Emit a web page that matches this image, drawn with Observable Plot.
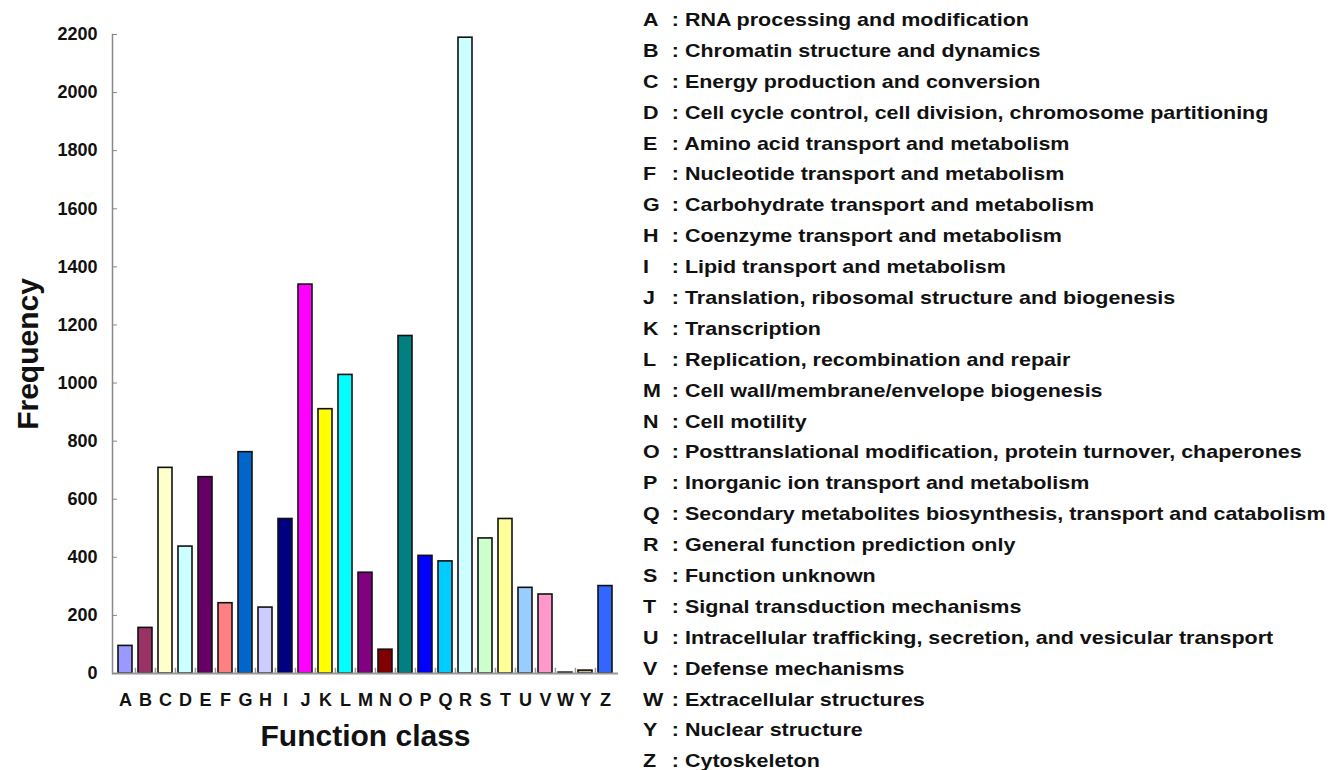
<!DOCTYPE html>
<html>
<head>
<meta charset="utf-8">
<script src="https://cdn.jsdelivr.net/npm/d3@7"></script>
<script src="https://cdn.jsdelivr.net/npm/@observablehq/plot@0.6"></script>
<style>
  html, body { margin: 0; padding: 0; background: #fff; }
  body { width: 1339px; height: 770px; position: relative; overflow: hidden;
         font-family: "Liberation Sans", Arial, sans-serif; }
  #chart { position: absolute; left: 0; top: 0; }
  #legend { position: absolute; left: 643px; top: 5px; font-weight: bold; font-size: 19px; color: #111;
            transform: scaleX(1.13); transform-origin: 0 0; }
  #legend .row { height: 30.9px; line-height: 30.9px; white-space: nowrap; }
  #legend .key { display: inline-block; width: 25.5px; }
</style>
</head>
<body>
<div id="chart"></div>
<div id="legend"></div>
<script>
const classes = ["A","B","C","D","E","F","G","H","I","J","K","L","M","N","O","P","Q","R","S","T","U","V","W","Y","Z"];
const frequency = [95, 157, 708, 437, 676, 242, 762, 227, 532, 1339, 910, 1028, 347, 82, 1162, 405, 386, 2189, 465, 532, 295, 272, 3, 10, 301];
const barColors = ["#9999FF","#993366","#FFFFCC","#CCFFFF","#660066","#FF8080","#0066CC","#CCCCFF","#000080","#FF00FF","#FFFF00","#00FFFF","#800080","#800000","#008080","#0000FF","#00CCFF","#CCFFFF","#CCFFCC","#FFFF99","#99CCFF","#FF99CC","#CC99FF","#D2B48C","#3366FF"];
const descriptions = [
  "RNA processing and modification",
  "Chromatin structure and dynamics",
  "Energy production and conversion",
  "Cell cycle control, cell division, chromosome partitioning",
  "Amino acid transport and metabolism",
  "Nucleotide transport and metabolism",
  "Carbohydrate transport and metabolism",
  "Coenzyme transport and metabolism",
  "Lipid transport and metabolism",
  "Translation, ribosomal structure and biogenesis",
  "Transcription",
  "Replication, recombination and repair",
  "Cell wall/membrane/envelope biogenesis",
  "Cell motility",
  "Posttranslational modification, protein turnover, chaperones",
  "Inorganic ion transport and metabolism",
  "Secondary metabolites biosynthesis, transport and catabolism",
  "General function prediction only",
  "Function unknown",
  "Signal transduction mechanisms",
  "Intracellular trafficking, secretion, and vesicular transport",
  "Defense mechanisms",
  "Extracellular structures",
  "Nuclear structure",
  "Cytoskeleton"
];
const yTicks = [0, 200, 400, 600, 800, 1000, 1200, 1400, 1600, 1800, 2000, 2200];

const data = classes.map((c, i) => ({cls: c, value: frequency[i], color: barColors[i]}));

const W = 630, ML = 112, MR = 12;
const step = (W - ML - MR) / (classes.length + 0.1);

const chart = Plot.plot({
  width: W,
  height: 770,
  marginLeft: ML,
  marginRight: MR,
  marginTop: 34,
  marginBottom: 97,
  style: {fontFamily: "'Liberation Sans', Arial, sans-serif", fontWeight: "bold", color: "#111", background: "transparent"},
  x: {domain: classes, paddingInner: 0.28, paddingOuter: 0.05, label: null},
  y: {domain: [0, 2200], label: null},
  marks: [
    Plot.barY(data, {x: "cls", y: "value", fill: "color", stroke: "#111", strokeWidth: 1.6}),
    Plot.ruleX(classes.slice(1), {x: d => d, dx: -step / 2, y1: 0, y2: 18, stroke: "#999", strokeWidth: 1.5}),
    Plot.frame({anchor: "left", stroke: "#888", strokeWidth: 1.5}),
    Plot.ruleY([0], {stroke: "#999", strokeWidth: 2}),
    Plot.axisY({ticks: yTicks, tickFormat: d => String(d), tickSize: -5, tickPadding: 20, fontSize: 18, label: null, stroke: "#888"}),
    Plot.axisX({tickSize: 0, tickPadding: 20, fontSize: 18, label: null}),
    Plot.text(["Frequency"], {frameAnchor: "left", textAnchor: "middle", rotate: -90, dx: -84, fontSize: 30, fontWeight: "bold", fill: "#111"}),
    Plot.text(["Function class"], {frameAnchor: "bottom", textAnchor: "middle", dy: 72, fontSize: 30, fontWeight: "bold", fill: "#111"})
  ]
});
document.getElementById("chart").appendChild(chart);

const legend = document.getElementById("legend");
classes.forEach((c, i) => {
  const row = document.createElement("div");
  row.className = "row";
  const k = document.createElement("span");
  k.className = "key";
  k.textContent = c;
  row.appendChild(k);
  row.appendChild(document.createTextNode(": " + descriptions[i]));
  legend.appendChild(row);
});
</script>
</body>
</html>
